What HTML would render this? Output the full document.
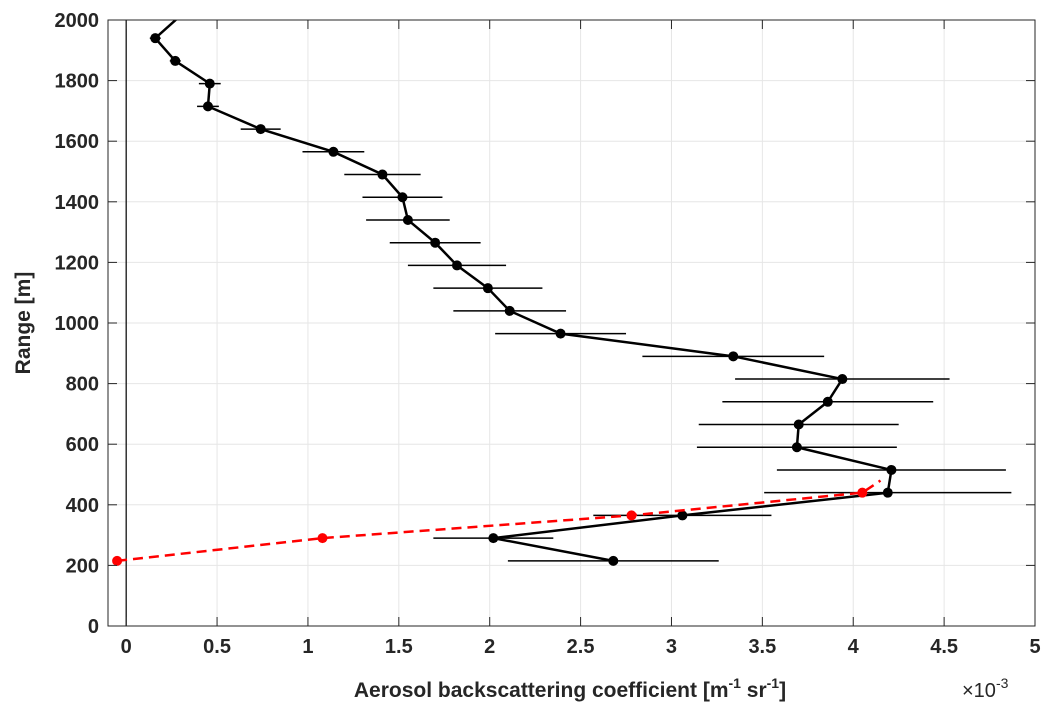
<!DOCTYPE html>
<html><head><meta charset="utf-8"><style>
body{margin:0;background:#fff;}
svg{display:block;font-family:"Liberation Sans",Arial,sans-serif;font-weight:bold;}
</style></head><body>
<svg width="1051" height="718" viewBox="0 0 1051 718" id="svg"></svg>
<script>
const rangeVals=[2015,1940,1865,1790,1715,1640,1565,1490,1415,1340,1265,1190,1115,1040,965,890,815,740,665,590,515,440,365,290,215];
const blackX=[0.30,0.16,0.27,0.46,0.45,0.74,1.14,1.41,1.52,1.55,1.70,1.82,1.99,2.11,2.39,3.34,3.94,3.86,3.70,3.69,4.21,4.19,3.06,2.02,2.68];
const blackErr=[0,0.03,0.03,0.06,0.06,0.11,0.17,0.21,0.22,0.23,0.25,0.27,0.30,0.31,0.36,0.50,0.59,0.58,0.55,0.55,0.63,0.68,0.49,0.33,0.58];
const redRange=[215,290,365,440,480];
const redX=[-0.05,1.08,2.78,4.05,4.15];
const xTicks=[0,0.5,1,1.5,2,2.5,3,3.5,4,4.5,5];
const xTickLabels=["0","0.5","1","1.5","2","2.5","3","3.5","4","4.5","5"];
const yTicks=[0,200,400,600,800,1000,1200,1400,1600,1800,2000];

const L=108,R=1035,T=20,B=626;
const X=v=>L+(v+0.1)/5.1*(R-L);
const Y=v=>B-v/2000*(B-T);
const svg=document.getElementById('svg');
const NS='http://www.w3.org/2000/svg';
function mk(tag,attrs,parent){const e=document.createElementNS(NS,tag);for(const k in attrs)e.setAttribute(k,attrs[k]);(parent||svg).appendChild(e);return e;}
mk('rect',{x:L,y:T,width:R-L,height:B-T,fill:'#fff'});
const grid=mk('g',{stroke:'#e6e6e6','stroke-width':1});


xTicks.forEach(v=>mk('line',{x1:X(v),x2:X(v),y1:T,y2:B},grid));
yTicks.forEach(v=>mk('line',{x1:L,x2:R,y1:Y(v),y2:Y(v)},grid));
const zl=mk('line',{x1:X(0),x2:X(0),y1:T,y2:B,stroke:'#000','stroke-width':1.2});


const defs=mk('defs',{});const cp=mk('clipPath',{id:'c'},defs);mk('rect',{x:L,y:T,width:R-L,height:B-T},cp);
const plot=mk('g',{'clip-path':'url(#c)'});
rangeVals.forEach((r,i)=>{if(blackErr[i]>0){const e=mk('line',{x1:X(blackX[i]-blackErr[i]),x2:X(blackX[i]+blackErr[i]),y1:Y(r),y2:Y(r),stroke:'#000','stroke-width':1.5},plot);

}});
const bl=mk('polyline',{points:rangeVals.map((r,i)=>X(blackX[i])+','+Y(r)).join(' '),fill:'none',stroke:'#000','stroke-width':2.5},plot);


rangeVals.forEach((r,i)=>{const c=mk('circle',{cx:X(blackX[i]),cy:Y(r),r:5,fill:'#000'},plot);

});
const rl=mk('polyline',{points:redRange.map((r,i)=>X(redX[i])+','+Y(r)).join(' '),fill:'none',stroke:'#f00','stroke-width':2.5,'stroke-dasharray':'10,6'},plot);


redRange.slice(0,4).forEach((r,i)=>{const c=mk('circle',{cx:X(redX[i]),cy:Y(r),r:5,fill:'#f00'},plot);

});
const fr=mk('rect',{x:L,y:T,width:R-L,height:B-T,fill:'none',stroke:'#262626','stroke-width':1});


xTicks.forEach((v,i)=>{mk('line',{x1:X(v),x2:X(v),y1:B,y2:B-9,stroke:'#262626'});mk('line',{x1:X(v),x2:X(v),y1:T,y2:T+9,stroke:'#262626'});
const t=mk('text',{x:X(v),y:B+27,'text-anchor':'middle','font-size':20,fill:'#262626'});t.textContent=xTickLabels[i];

});
yTicks.forEach(v=>{mk('line',{x1:L,x2:L+9,y1:Y(v),y2:Y(v),stroke:'#262626'});mk('line',{x1:R,x2:R-9,y1:Y(v),y2:Y(v),stroke:'#262626'});
const t=mk('text',{x:L-9,y:Y(v)+7,'text-anchor':'end','font-size':20,fill:'#262626'});t.textContent=v;

});
</script>
<svg style="position:absolute;left:0;top:0" width="1051" height="718">
<text x="570" y="697" text-anchor="middle" font-size="21" fill="#262626" font-family="Liberation Sans" font-weight="bold">Aerosol backscattering coefficient  [m<tspan font-size="14" dy="-9">-1</tspan><tspan dy="9"> sr</tspan><tspan font-size="14" dy="-9">-1</tspan><tspan dy="9">]</tspan></text>
<text x="962" y="697" font-size="20" fill="#262626" font-family="Liberation Sans" font-weight="normal">×10<tspan font-size="14" dy="-9">-3</tspan></text>
<text transform="translate(30,323) rotate(-90)" text-anchor="middle" font-size="21" fill="#262626" font-family="Liberation Sans" font-weight="bold">Range [m]</text>
</svg>
</body></html>
